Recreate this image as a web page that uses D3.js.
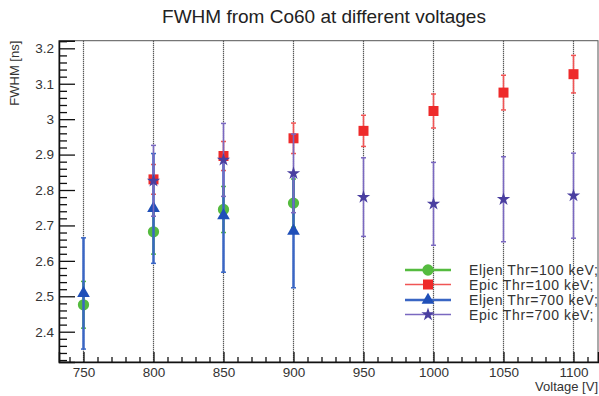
<!DOCTYPE html>
<html>
<head>
<meta charset="utf-8">
<script src="https://cdn.jsdelivr.net/npm/d3@7"></script>
<style>
  body { margin: 0; background: #fff; }
  svg { display: block; font-family: "Liberation Sans", Arial, sans-serif; }
</style>
</head>
<body>
<svg id="chart" width="599" height="396"></svg>
<script>
// voltages for each series
var voltsEljen = [750, 800, 850, 900];
var voltsEpic = [800, 850, 900, 950, 1000, 1050, 1100];

// FWHM values [ns] and errors
var eljen100 = [2.476, 2.682, 2.745, 2.763];
var eljen100Err = [0.066, 0.063, 0.065, 0.068];
var epic100 = [2.830, 2.896, 2.946, 2.967, 3.023, 3.075, 3.127];
var epic100Err = [0.042, 0.041, 0.043, 0.044, 0.048, 0.049, 0.053];
var eljen700 = [2.508, 2.748, 2.728, 2.684];
var eljen700Err = [0.157, 0.155, 0.160, 0.160];
var epic700 = [2.826, 2.885, 2.847, 2.780, 2.761, 2.774, 2.784];
var epic700Err = [0.100, 0.103, 0.111, 0.111, 0.117, 0.120, 0.120];

var xMajor = [750, 800, 850, 900, 950, 1000, 1050, 1100];
var yMajor = [2.4, 2.5, 2.6, 2.7, 2.8, 2.9, 3.0, 3.1, 3.2];

var series = [
    { label: "Eljen Thr=100 keV;", x: voltsEljen, y: eljen100, err: eljen100Err, color: "#55bb3f", line: "#55bb3f", width: 2.5, symbol: d3.symbolCircle, size: 100 },
    { label: "Epic Thr=100 keV;", x: voltsEpic, y: epic100, err: epic100Err, color: "#ee2a2a", line: "#f05555", width: 1.6, symbol: d3.symbolSquare, size: 100 },
    { label: "Eljen Thr=700 keV;", x: voltsEljen, y: eljen700, err: eljen700Err, color: "#1f4fb8", line: "#3a66c4", width: 2.5, symbol: d3.symbolTriangle, size: 70 },
    { label: "Epic Thr=700 keV;", x: voltsEpic, y: epic700, err: epic700Err, color: "#4a3fa0", line: "#7a68c0", width: 1.6, symbol: d3.symbolStar, size: 55 }
];

function drawChart() {
    var svg = d3.select("#chart");
    var pLeft = 59, pRight = 598, pTop = 40.7, pBottom = 362;

    var x = d3.scaleLinear().domain([732.5, 1117.5]).range([pLeft, pRight]);
    var y = d3.scaleLinear().domain([2.3145, 3.2215]).range([pBottom, pTop]);

    // title
    svg.append("text")
        .attr("x", 324).attr("y", 23)
        .attr("text-anchor", "middle")
        .style("font-size", "19px")
        .style("fill", "#222")
        .text("FWHM from Co60 at different voltages");

    // vertical dotted grid
    svg.append("g").selectAll("line")
        .data(xMajor).enter().append("line")
        .attr("x1", function (d) { return x(d); })
        .attr("x2", function (d) { return x(d); })
        .attr("y1", pTop).attr("y2", pBottom)
        .attr("stroke", "#222")
        .attr("stroke-width", 1.2)
        .attr("stroke-dasharray", "1,1");

    // frame
    svg.append("rect")
        .attr("x", pLeft).attr("y", pTop)
        .attr("width", pRight - pLeft).attr("height", pBottom - pTop)
        .attr("fill", "none").attr("stroke", "#555").attr("stroke-width", 1);

    // x axis: major + minor ticks pointing inward
    var xMinor = d3.range(740, 1111, 10).filter(function (v) { return v % 50 !== 0; });
    svg.append("g")
        .attr("transform", "translate(0," + pBottom + ")")
        .call(d3.axisBottom(x).tickValues(xMinor).tickSize(-5).tickFormat(""))
        .call(function (g) { g.select(".domain").remove(); });
    var xAxis = svg.append("g")
        .attr("transform", "translate(0," + pBottom + ")")
        .call(d3.axisBottom(x).tickValues(xMajor).tickSize(-10).tickPadding(4).tickFormat(d3.format("d")));
    xAxis.select(".domain").attr("stroke", "#111").attr("stroke-width", 1.5);
    xAxis.selectAll("text").style("font-size", "13.5px").style("fill", "#333").attr("dy", "0.85em");

    // y axis
    var yMinor = d3.range(2.32, 3.221, 0.02).filter(function (v) {
        return Math.abs(v * 10 - Math.round(v * 10)) > 0.01;
    });
    svg.append("g")
        .attr("transform", "translate(" + pLeft + ",0)")
        .call(d3.axisLeft(y).tickValues(yMinor).tickSize(-8).tickFormat(""))
        .call(function (g) { g.select(".domain").remove(); });
    var yAxis = svg.append("g")
        .attr("transform", "translate(" + pLeft + ",0)")
        .call(d3.axisLeft(y).tickValues(yMajor).tickSize(-16).tickPadding(5).tickFormat(d3.format("~g")));
    yAxis.select(".domain").attr("stroke", "#111").attr("stroke-width", 1.5);
    yAxis.selectAll("text").style("font-size", "13.5px").style("fill", "#333");
    svg.selectAll(".tick line").attr("stroke", "#111").attr("stroke-width", 1.3);

    // axis titles
    svg.append("text")
        .attr("x", pRight).attr("y", 391)
        .attr("text-anchor", "end")
        .style("font-size", "13px").style("fill", "#333")
        .text("Voltage [V]");
    svg.append("text")
        .attr("transform", "translate(19," + pTop + ") rotate(-90)")
        .attr("text-anchor", "end")
        .style("font-size", "13px").style("fill", "#333")
        .text("FWHM [ns]");

    // error bars and markers
    series.forEach(function (s) {
        var g = svg.append("g");
        var pts = s.x.map(function (v, i) { return { x: v, y: s.y[i], e: s.err[i] }; });
        g.selectAll(".bar").data(pts).enter().append("line")
            .attr("x1", function (d) { return x(d.x); })
            .attr("x2", function (d) { return x(d.x); })
            .attr("y1", function (d) { return y(d.y - d.e); })
            .attr("y2", function (d) { return y(d.y + d.e); })
            .attr("stroke", s.line).attr("stroke-width", s.width);
        [-1, 1].forEach(function (sign) {
            g.selectAll(".cap" + sign).data(pts).enter().append("line")
                .attr("x1", function (d) { return x(d.x) - 2.5; })
                .attr("x2", function (d) { return x(d.x) + 2.5; })
                .attr("y1", function (d) { return y(d.y + sign * d.e); })
                .attr("y2", function (d) { return y(d.y + sign * d.e); })
                .attr("stroke", s.line).attr("stroke-width", 1.5);
        });
        g.selectAll("path").data(pts).enter().append("path")
            .attr("d", d3.symbol().type(s.symbol).size(s.size))
            .attr("transform", function (d) { return "translate(" + x(d.x) + "," + y(d.y) + ")"; })
            .attr("fill", s.color);
    });

    // legend
    var legY = [270, 284.5, 300, 314.5];
    series.forEach(function (s, i) {
        var g = svg.append("g").attr("transform", "translate(0," + legY[i] + ")");
        g.append("line").attr("x1", 405).attr("x2", 451)
            .attr("stroke", s.line).attr("stroke-width", s.width);
        g.append("path")
            .attr("d", d3.symbol().type(s.symbol).size(s.size))
            .attr("transform", "translate(428,0)")
            .attr("fill", s.color);
        g.append("text").attr("x", 469).attr("y", 5)
            .style("font-size", "14px").style("letter-spacing", "0.6px").style("fill", "#333")
            .text(s.label);
    });
}

drawChart();
</script>
</body>
</html>
